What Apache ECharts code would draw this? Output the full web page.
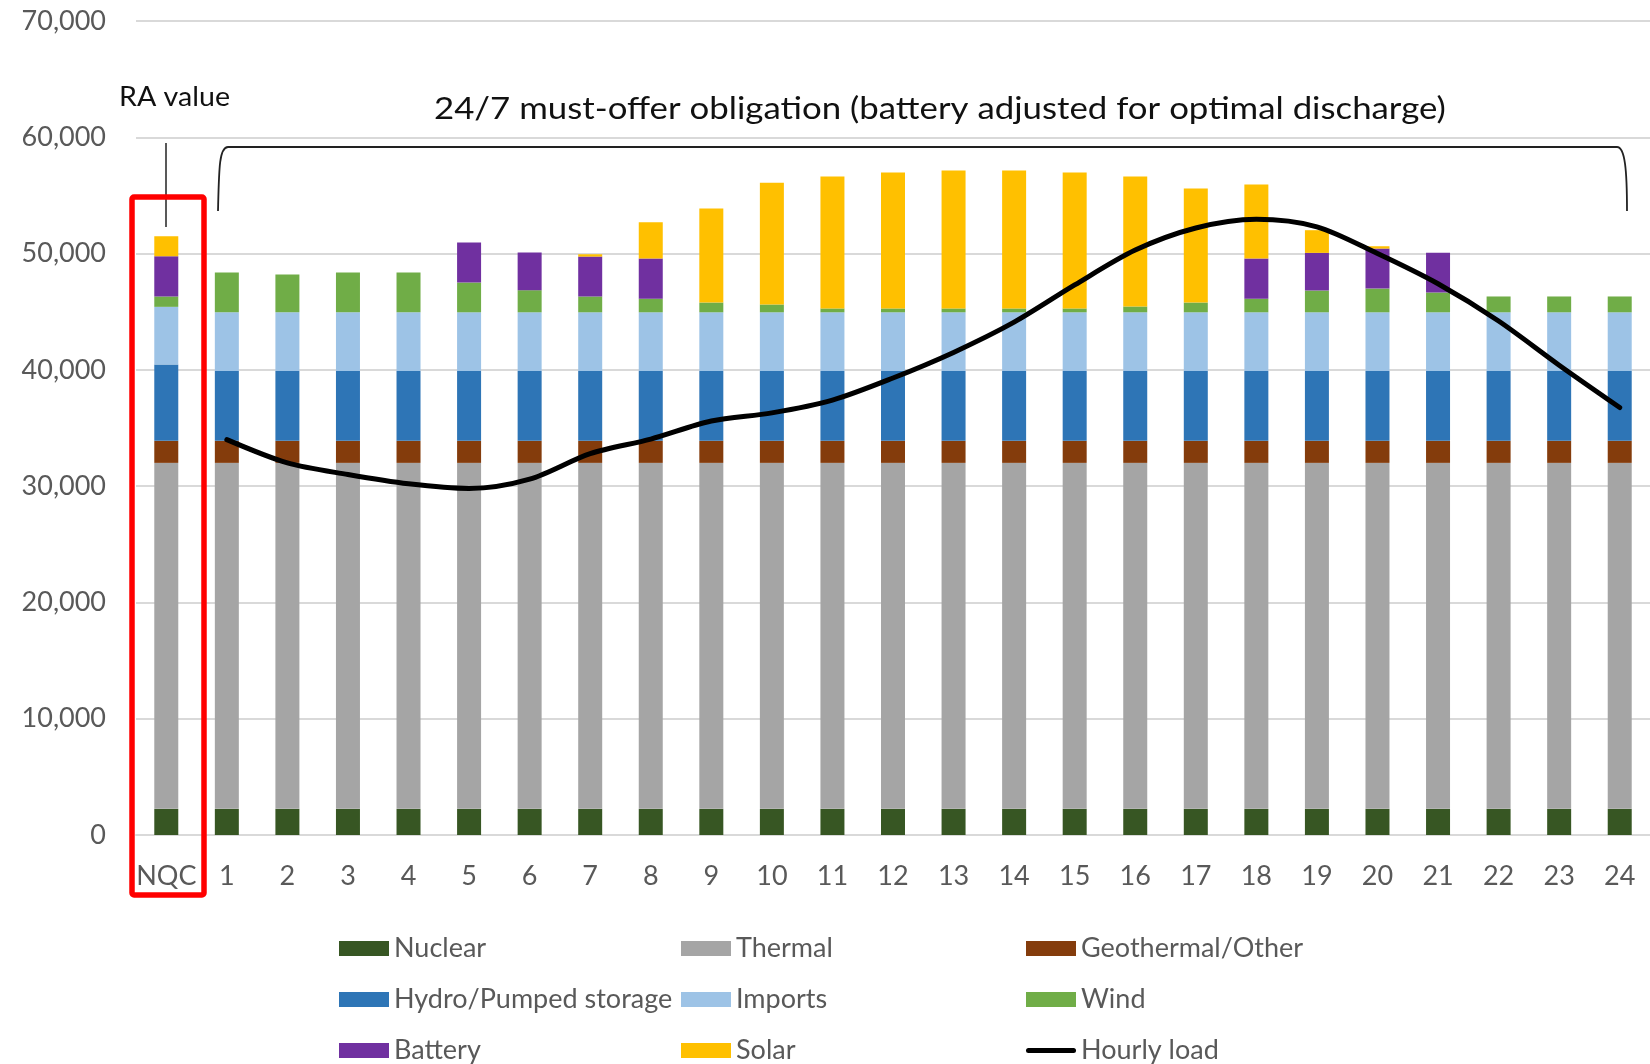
<!DOCTYPE html>
<html>
<head>
<meta charset="utf-8">
<script src="https://cdn.jsdelivr.net/npm/echarts@6/dist/echarts.min.js"></script>
<style>
html,body{margin:0;padding:0;background:#fff;}
#chart-con{width:1650px;height:1064px;}
</style>
</head>
<body>
<div id="chart-con"></div>
<script>
//数据
var categories = ['NQC','1','2','3','4','5','6','7','8','9','10','11','12','13','14','15','16','17','18','19','20','21','22','23','24'];
var nuclear    = [2250,2250,2250,2250,2250,2250,2250,2250,2250,2250,2250,2250,2250,2250,2250,2250,2250,2250,2250,2250,2250,2250,2250,2250,2250];
var thermal    = [29750,29750,29750,29750,29750,29750,29750,29750,29750,29750,29750,29750,29750,29750,29750,29750,29750,29750,29750,29750,29750,29750,29750,29750,29750];
var geothermal = [1900,1900,1900,1900,1900,1900,1900,1900,1900,1900,1900,1900,1900,1900,1900,1900,1900,1900,1900,1900,1900,1900,1900,1900,1900];
var hydro      = [6560,6000,6000,6000,6000,6000,6000,6000,6000,6000,6000,6000,6000,6000,6000,6000,6000,6000,6000,6000,6000,6000,6000,6000,6000];
var imports    = [4960,5050,5050,5050,5050,5050,5050,5050,5050,5050,5050,5050,5050,5050,5050,5050,5050,5050,5050,5050,5050,5050,5050,5050,5050];
var wind       = [890,3420,3250,3420,3420,2560,1900,1360,1170,840,670,330,330,330,330,330,500,840,1170,1870,2040,1700,1360,1360,1360];
var battery    = [3460,0,0,0,0,3440,3240,3430,3450,0,0,0,0,0,0,0,0,0,3450,3240,3440,3410,0,0,0];
var solar      = [1720,0,0,0,0,0,0,200,3130,8080,10480,11340,11690,11860,11860,11690,11170,9800,6370,1950,200,0,0,0,0];
var hourlyLoad = [null,34000,32000,31000,30200,29800,30600,32800,34050,35600,36300,37400,39300,41500,44100,47300,50300,52200,52950,52300,50000,47400,44200,40400,36760];
var yTicks = {min:0, max:70000, interval:10000};

var font = 'Lato';
var gray = '#595959';

function bar(name, data, color) {
    return {
        name: name,
        type: 'bar',
        stack: 'ra',
        barWidth: 24,
        data: data,
        itemStyle: {color: color}
    };
}

var dom = document.getElementById("chart-con");
var myChart = echarts.init(dom);

var legendText = {fontFamily: font, fontSize: 27, color: gray};
function legendCol(left, names) {
    return {
        orient: 'vertical',
        left: left,
        top: 935,
        padding: 0,
        itemWidth: 50,
        itemHeight: 15,
        itemGap: 24,
        textStyle: legendText,
        data: names
    };
}

var option = {
    animation: false,
    grid: {left: 136, right: -17, top: 21, bottom: 229},
    legend: [
        legendCol(339, [{name:'Nuclear',icon:'rect'},{name:'Hydro/Pumped storage',icon:'rect'},{name:'Battery',icon:'rect'}]),
        legendCol(681, [{name:'Thermal',icon:'rect'},{name:'Imports',icon:'rect'},{name:'Solar',icon:'rect'}]),
        legendCol(1026, [{name:'Geothermal/Other',icon:'rect'},{name:'Wind',icon:'rect'},
            {name:'Hourly load',icon:'path://M2.5,0 L47.5,0 A2.5,2.5 0 0 1 47.5,5 L2.5,5 A2.5,2.5 0 0 1 2.5,0 Z'}])
    ],
    xAxis: {
        type: 'category',
        data: categories,
        axisTick: {show: false},
        axisLine: {lineStyle: {color: '#d9d9d9', width: 2}},
        axisLabel: {fontFamily: font, fontSize: 27, color: gray, margin: 28, interval: 0}
    },
    yAxis: {
        type: 'value',
        min: yTicks.min,
        max: yTicks.max,
        interval: yTicks.interval,
        axisLine: {show: false},
        axisTick: {show: false},
        splitLine: {lineStyle: {color: '#d9d9d9', width: 2}},
        axisLabel: {
            fontFamily: font, fontSize: 27, color: gray, margin: 30,
            formatter: function (v) { return v.toLocaleString('en-US'); }
        }
    },
    series: [
        bar('Nuclear', nuclear, '#375623'),
        bar('Thermal', thermal, '#a5a5a5'),
        bar('Geothermal/Other', geothermal, '#843c0c'),
        bar('Hydro/Pumped storage', hydro, '#2e75b6'),
        bar('Imports', imports, '#9dc3e6'),
        bar('Wind', wind, '#70ad47'),
        bar('Battery', battery, '#7030a0'),
        bar('Solar', solar, '#ffc000'),
        {
            name: 'Hourly load',
            type: 'line',
            smooth: 0.3,
            symbol: 'none',
            data: hourlyLoad,
            itemStyle: {color: '#000'},
            lineStyle: {color: '#000', width: 5, cap: 'round'},
            z: 5
        }
    ],
    //标注：RA value、24/7括号、红框
    graphic: [
        {type:'text', x:119, y:85, scaleX:1.1, style:{text:'RA value', font:'26px Lato', fill:'#111'}},
        {type:'line', shape:{x1:166, y1:143, x2:166, y2:227}, style:{stroke:'#222', lineWidth:1.5}},
        {type:'text', x:434, y:94, scaleX:1.16, style:{text:'24/7 must-offer obligation (battery adjusted for optimal discharge)', font:'30px Lato', fill:'#111'}},
        {type:'bezierCurve', shape:{x1:218, y1:211, cpx1:219, cpy1:170, cpx2:219, cpy2:147, x2:228, y2:147},
            style:{fill:null, stroke:'#222', lineWidth:1.8}},
        {type:'line', shape:{x1:228, y1:147, x2:1617, y2:147}, style:{stroke:'#222', lineWidth:1.8}},
        {type:'bezierCurve', shape:{x1:1617, y1:147, cpx1:1625, cpy1:147, cpx2:1627, cpy2:170, x2:1627, y2:211},
            style:{fill:null, stroke:'#222', lineWidth:1.8}},
        {type:'rect', shape:{x:132, y:197, width:72, height:698, r:2}, style:{fill:null, stroke:'#ff0000', lineWidth:5.5}, z:10}
    ]
};

if (option && typeof option === 'object') {
    myChart.setOption(option);
}
</script>
</body>
</html>
